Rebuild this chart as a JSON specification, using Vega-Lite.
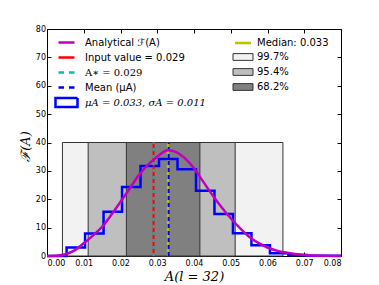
{
  "$schema": "https://vega.github.io/schema/vega-lite/v6.json",
  "width": 294,
  "height": 227,
  "autosize": {"type": "none"},
  "padding": {"left": 47, "top": 29, "right": 38, "bottom": 29},
  "background": "white",
  "config": {
    "view": {"stroke": "#000", "strokeWidth": 1},
    "axis": {"grid": false, "domain": false, "tickColor": "#000", "tickSize": -4, "tickWidth": 1, "labelFont": "DejaVu Sans", "labelFontSize": 8, "labelColor": "#000", "titleFont": "DejaVu Serif", "titleFontSize": 13, "titleFontWeight": "normal", "titleFontStyle": "italic", "titleColor": "#000"},
    "legend": {"labelFont": "DejaVu Sans", "labelFontSize": 10, "labelColor": "#000", "padding": 0, "titlePadding": 0}
  },
  "datasets": {
    "bands": [
      {"band": "99.7%", "lo": 0.0042, "hi": 0.0642},
      {"band": "95.4%", "lo": 0.0112, "hi": 0.0512},
      {"band": "68.2%", "lo": 0.0216, "hi": 0.0416}
    ],
    "vlines": [
      {"name": "median", "x": 0.0329},
      {"name": "input", "x": 0.029},
      {"name": "astar", "x": 0.029},
      {"name": "mean", "x": 0.0331}
    ],
    "hist": [
      {"x": 0, "y": 0}, {"x": 0.00533, "y": 3.0}, {"x": 0.01036, "y": 7.9}, {"x": 0.01539, "y": 15.6},
      {"x": 0.02042, "y": 24.3}, {"x": 0.02545, "y": 31.7}, {"x": 0.03048, "y": 34.2}, {"x": 0.03551, "y": 30.6},
      {"x": 0.04054, "y": 23.0}, {"x": 0.04557, "y": 14.8}, {"x": 0.0506, "y": 8.0}, {"x": 0.05563, "y": 3.8},
      {"x": 0.06066, "y": 1.0}, {"x": 0.06569, "y": 0.35}, {"x": 0.07072, "y": 0.05}, {"x": 0.08, "y": 0.05}
    ],
    "curve": [
      {"x": 0.0, "y": 0}, {"x": 0.0025, "y": 0.05}, {"x": 0.005, "y": 0.6}, {"x": 0.0075, "y": 2.0},
      {"x": 0.01, "y": 4.5}, {"x": 0.0125, "y": 7.2}, {"x": 0.015, "y": 10.3}, {"x": 0.0175, "y": 14.5},
      {"x": 0.02, "y": 19.1}, {"x": 0.0225, "y": 23.8}, {"x": 0.025, "y": 28.5}, {"x": 0.0275, "y": 32.2},
      {"x": 0.03, "y": 35.0}, {"x": 0.0325, "y": 37.2}, {"x": 0.033, "y": 37.3}, {"x": 0.035, "y": 36.7},
      {"x": 0.0375, "y": 34.5}, {"x": 0.04, "y": 30.9}, {"x": 0.0425, "y": 26.2}, {"x": 0.045, "y": 21.5},
      {"x": 0.0475, "y": 17.2}, {"x": 0.05, "y": 13.3}, {"x": 0.0525, "y": 9.8}, {"x": 0.055, "y": 6.8},
      {"x": 0.0575, "y": 4.6}, {"x": 0.06, "y": 3.0}, {"x": 0.0625, "y": 1.9}, {"x": 0.065, "y": 1.2},
      {"x": 0.0675, "y": 0.7}, {"x": 0.07, "y": 0.35}, {"x": 0.075, "y": 0.1}, {"x": 0.08, "y": 0.03}
    ]
  },
  "resolve": {"axis": {"x": "independent", "y": "independent"}},
  "layer": [
    {
      "data": {"name": "bands"},
      "mark": {"type": "rect", "stroke": "#333", "strokeWidth": 1},
      "encoding": {
        "x": {"field": "lo", "type": "quantitative", "scale": {"domain": [0, 0.08], "nice": false, "zero": false},
              "axis": {"orient": "bottom", "values": [0, 0.01, 0.02, 0.03, 0.04, 0.05, 0.06, 0.07, 0.08], "format": ".2f", "labelPadding": 7, "title": "A(l = 32)", "titlePadding": 3}},
        "x2": {"field": "hi"},
        "y": {"datum": 0, "type": "quantitative", "scale": {"domain": [0, 80], "nice": false},
              "axis": {"orient": "left", "values": [0, 10, 20, 30, 40, 50, 60, 70, 80], "labelPadding": 5.5, "title": "ℱ(A)", "titleX": -15, "titleY": 117}},
        "y2": {"datum": 40},
        "fill": {"field": "band", "type": "nominal",
                 "scale": {"domain": ["99.7%", "95.4%", "68.2%"], "range": ["#f2f2f2", "#bfbfbf", "#808080"]},
                 "legend": null}
      }
    },
    {
      "data": {"name": "vlines"},
      "transform": [{"filter": "datum.name === 'median'"}],
      "mark": {"type": "rule", "strokeWidth": 2},
      "encoding": {
        "x": {"field": "x", "type": "quantitative", "axis": {"orient": "top", "labels": false, "title": null, "values": [0, 0.01, 0.02, 0.03, 0.04, 0.05, 0.06, 0.07, 0.08]}},
        "y": {"datum": 0, "type": "quantitative", "axis": {"orient": "right", "labels": false, "title": null, "values": [0, 10, 20, 30, 40, 50, 60, 70, 80]}},
        "y2": {"datum": 40},
        "color": {"datum": "Median: 0.033", "type": "nominal",
                 "scale": {"domain": ["Median: 0.033", "99.7%", "95.4%", "68.2%"], "range": ["#bfbf00", "#333333", "#333333", "#333333"]},
                 "legend": {"title": null, "orient": "none", "legendX": 191, "legendY": 9, "symbolSize": 256, "labelOffset": 9, "rowPadding": 3, "symbolStrokeWidth": 2.5,
                   "encode": {"symbols": {"update": {
                     "shape": {"signal": "datum.index === 0 ? 'stroke' : 'M-1.25,-0.42H1.25V0.42H-1.25Z'"},
                     "fill": {"signal": "datum.index === 1 ? '#f2f2f2' : datum.index === 2 ? '#bfbfbf' : '#808080'"},
                     "strokeWidth": {"signal": "datum.index === 0 ? 2.5 : 1"},
                     "opacity": {"value": 1}
                   }}}}}
      }
    },
    {
      "data": {"name": "hist"},
      "mark": {"type": "line", "interpolate": "step-after", "strokeWidth": 2.5},
      "encoding": {
        "x": {"field": "x", "type": "quantitative", "axis": null},
        "y": {"field": "y", "type": "quantitative", "axis": null},
        "stroke": {"datum": "μA = 0.033, σA = 0.011", "type": "nominal",
                  "scale": {"domain": ["Analytical ℱ(A)", "Input value = 0.029", "A∗ = 0.029", "Mean (μA)", "μA = 0.033, σA = 0.011"],
                            "range": ["#bf00bf", "#ff0000", "#00bfbf", "#0000ff", "#0000ff"]},
                  "legend": {"title": null, "orient": "none", "legendX": 10, "legendY": 4, "symbolSize": 256, "labelOffset": 9, "rowPadding": 0, "symbolStrokeWidth": 2.5,
                    "encode": {
                      "symbols": {"update": {
                        "shape": {"signal": "datum.index === 4 ? 'M-1.375,-0.55H1.375V0.55H-1.375Z' : 'stroke'"},
                        "strokeDash": {"signal": "(datum.index === 2 || datum.index === 3) ? [5.5, 5] : [1, 0]"},
                        "fill": {"value": "white"},
                        "strokeWidth": {"value": 2.5},
                        "opacity": {"value": 1}
                      }},
                      "labels": {"update": {
                        "font": {"signal": "(datum.index === 4 || datum.index === 2) ? 'DejaVu Serif' : 'DejaVu Sans'"},
                        "fontStyle": {"signal": "datum.index === 4 ? 'italic' : 'normal'"}
                      }}
                    }}}
      }
    },
    {
      "data": {"name": "vlines"},
      "transform": [{"filter": "datum.name === 'input'"}],
      "mark": {"type": "rule", "strokeWidth": 2},
      "encoding": {
        "x": {"field": "x", "type": "quantitative", "axis": null},
        "y": {"datum": 0, "type": "quantitative", "axis": null},
        "y2": {"datum": 40},
        "stroke": {"datum": "Input value = 0.029", "type": "nominal"}
      }
    },
    {
      "data": {"name": "vlines"},
      "transform": [{"filter": "datum.name === 'astar'"}],
      "mark": {"type": "rule", "strokeWidth": 2, "strokeDash": [3, 4]},
      "encoding": {
        "x": {"field": "x", "type": "quantitative", "axis": null},
        "y": {"datum": 0, "type": "quantitative", "axis": null},
        "y2": {"datum": 40},
        "stroke": {"datum": "A∗ = 0.029", "type": "nominal"}
      }
    },
    {
      "data": {"name": "vlines"},
      "transform": [{"filter": "datum.name === 'mean'"}],
      "mark": {"type": "rule", "strokeWidth": 2, "strokeDash": [4, 3]},
      "encoding": {
        "x": {"field": "x", "type": "quantitative", "axis": null},
        "y": {"datum": 0, "type": "quantitative", "axis": null},
        "y2": {"datum": 40},
        "stroke": {"datum": "Mean (μA)", "type": "nominal"}
      }
    },
    {
      "data": {"name": "curve"},
      "mark": {"type": "line", "interpolate": "monotone", "strokeWidth": 2.5},
      "encoding": {
        "x": {"field": "x", "type": "quantitative", "axis": null},
        "y": {"field": "y", "type": "quantitative", "axis": null},
        "stroke": {"datum": "Analytical ℱ(A)", "type": "nominal"}
      }
    }
  ]
}
